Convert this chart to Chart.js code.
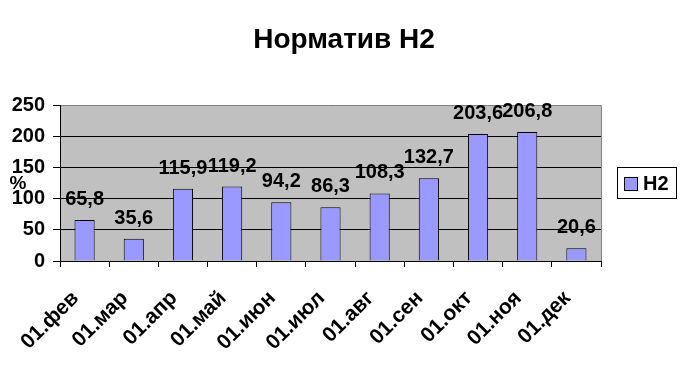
<!DOCTYPE html>
<html>
<head>
<meta charset="utf-8">
<script src="https://cdn.jsdelivr.net/npm/chart.js@4"></script>
<style>
  body { margin: 0; background: #fff; }
  canvas { display: block; }
</style>
</head>
<body>
<canvas id="chart" width="688" height="376"></canvas>
<script>
const categories = ['01.фев', '01.мар', '01.апр', '01.май', '01.июн', '01.июл', '01.авг', '01.сен', '01.окт', '01.ноя', '01.дек'];
const seriesName = 'Н2';
const values = [65.8, 35.6, 115.9, 119.2, 94.2, 86.3, 108.3, 132.7, 203.6, 206.8, 20.6];
const yTicks = [0, 50, 100, 150, 200, 250];

const FONT = "'Liberation Sans', Arial, sans-serif";
const BAR_COLOR = '#9999ff';

function align(p) {
    return Math.round(p - 0.5) + 0.5;
}

// plot background, value labels, "%" label, legend
const excelLook = {
    id: 'excelLook',
    beforeDraw(chart) {
        const { ctx, chartArea: a } = chart;
        ctx.save();
        ctx.fillStyle = '#c0c0c0';
        ctx.fillRect(a.left, a.top, a.right - a.left, a.bottom - a.top);
        ctx.restore();
    },
    afterDraw(chart) {
        const { ctx, chartArea: a } = chart;
        ctx.save();
        // gray top/right frame
        ctx.strokeStyle = '#808080';
        ctx.lineWidth = 1;
        ctx.beginPath();
        ctx.moveTo(a.left + 1, align(a.top));
        ctx.lineTo(align(a.right), align(a.top));
        ctx.lineTo(align(a.right), a.bottom);
        ctx.stroke();

        // value labels
        ctx.fillStyle = '#000';
        ctx.font = 'bold 20px ' + FONT;
        ctx.textAlign = 'center';
        ctx.textBaseline = 'alphabetic';
        chart.getDatasetMeta(0).data.forEach((bar, i) => {
            ctx.fillText(values[i].toFixed(1).replace('.', ','), bar.x, bar.y - 15);
        });

        // axis unit
        ctx.font = 'bold 19px ' + FONT;
        ctx.textBaseline = 'middle';
        ctx.fillText('%', 18, 184);

        // legend
        const lx = 617, ly = 167, lw = 59, lh = 31;
        ctx.strokeStyle = '#000';
        ctx.strokeRect(lx + 0.5, ly + 0.5, lw, lh);
        ctx.fillStyle = BAR_COLOR;
        ctx.fillRect(624, 177, 13, 13);
        ctx.strokeRect(624.5, 177.5, 13, 13);
        ctx.fillStyle = '#000';
        ctx.textAlign = 'left';
        ctx.font = 'bold 20px ' + FONT;
        ctx.fillText(seriesName, 643, 184);
        ctx.restore();
    }
};

new Chart(document.getElementById('chart'), {
    type: 'bar',
    data: {
        labels: categories,
        datasets: [{
            label: seriesName,
            data: values,
            backgroundColor: BAR_COLOR,
            borderColor: '#000',
            borderWidth: 1,
            barPercentage: 0.41,
            categoryPercentage: 1
        }]
    },
    options: {
        responsive: false,
        animation: false,
        layout: { padding: 0 },
        plugins: {
            legend: { display: false },
            tooltip: { enabled: false },
            title: {
                display: true,
                text: 'Норматив Н2',
                color: '#000',
                font: { family: FONT, size: 28, weight: 'bold', lineHeight: 1.2 },
                padding: { top: 23, bottom: 48.4 }
            }
        },
        scales: {
            x: {
                offset: true,
                grid: { offset: true, drawOnChartArea: false, color: '#000', tickLength: 6 },
                border: { color: '#000' },
                ticks: {
                    color: '#000',
                    font: { family: FONT, size: 21, weight: 'bold' },
                    minRotation: 45,
                    maxRotation: 45,
                    autoSkip: false,
                    padding: 19,
                    labelOffset: -9
                },
                afterFit(s) { s.height = 115; }
            },
            y: {
                min: 0,
                max: 250,
                afterBuildTicks(s) { s.ticks = yTicks.map(v => ({ value: v })); },
                grid: { color: '#000', tickLength: 7 },
                border: { color: '#000' },
                ticks: {
                    color: '#000',
                    font: { family: FONT, size: 20, weight: 'bold' },
                    padding: 8
                },
                afterFit(s) { s.width = 60; }
            },
            yr: {
                type: 'linear',
                position: 'right',
                grid: { display: false },
                border: { display: false },
                ticks: { display: false },
                afterFit(s) { s.width = 87; }
            }
        }
    },
    plugins: [excelLook]
});
</script>
</body>
</html>
